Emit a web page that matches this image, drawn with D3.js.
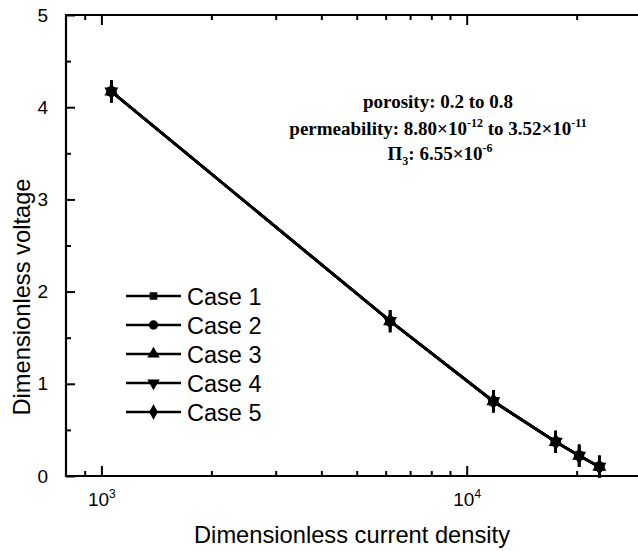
<!DOCTYPE html>
<html>
<head>
<meta charset="utf-8">
<script src="https://cdn.jsdelivr.net/npm/d3@7"></script>
<style>
html,body{margin:0;padding:0;background:#fff;}
svg{display:block;}
</style>
</head>
<body>
<svg id="chart" width="638" height="551"></svg>
<script>
// ---- data ----
const caseNames = ["Case 1", "Case 2", "Case 3", "Case 4", "Case 5"];
const currentDensity = [1065, 6170, 11830, 17530, 20310, 23080];
const case1 = [4.17, 1.68, 0.81, 0.37, 0.22, 0.10];
const case2 = [4.17, 1.68, 0.81, 0.37, 0.22, 0.10];
const case3 = [4.17, 1.68, 0.81, 0.37, 0.22, 0.10];
const case4 = [4.17, 1.68, 0.81, 0.37, 0.22, 0.10];
const case5 = [4.17, 1.68, 0.81, 0.37, 0.22, 0.10];
const voltageError = [0.12, 0.12, 0.12, 0.12, 0.12, 0.12];
const yTicks = [0, 1, 2, 3, 4, 5];
const yMinorTicks = [0.5, 1.5, 2.5, 3.5, 4.5];
const xMajorTicks = [1000, 10000];
const xMinorTicks = [900, 2000, 3000, 4000, 5000, 6000, 7000, 8000, 9000, 20000];

const seriesValues = [case1, case2, case3, case4, case5];
const markerTypes = [d3.symbolSquare, d3.symbolCircle, d3.symbolTriangle, d3.symbolTriangle, d3.symbolDiamond];
const markerRot = [0, 0, 0, 180, 0];
const markerSize = [72, 85, 85, 85, 85];

// ---- layout ----
const pLeft = 66, pRight = 641, pTop = 15, pBottom = 476;
const svg = d3.select("#chart");
const x = d3.scaleLog().domain([800, 30000]).range([pLeft, pRight]);
const y = d3.scaleLinear().domain([0, 5]).range([pBottom, pTop]);

const tickFont = "Liberation Sans, Arial, sans-serif";

// frame
svg.append("line").attr("x1", pLeft).attr("x2", 700).attr("y1", pBottom).attr("y2", pBottom)
  .attr("stroke", "#000").attr("stroke-width", 2.2);
svg.append("line").attr("x1", pLeft).attr("x2", 700).attr("y1", pTop).attr("y2", pTop)
  .attr("stroke", "#000").attr("stroke-width", 2.2);
svg.append("line").attr("x1", pLeft).attr("x2", pLeft).attr("y1", pTop - 1).attr("y2", pBottom + 1)
  .attr("stroke", "#000").attr("stroke-width", 2.2);

// y axis (ticks inward)
const yAxis = d3.axisLeft(y).tickValues(yTicks).tickSizeInner(-9).tickSizeOuter(0).tickPadding(18)
  .tickFormat(d3.format("d"));
const gy = svg.append("g").attr("transform", `translate(${pLeft},0)`).call(yAxis);
gy.select(".domain").remove();
gy.selectAll(".tick line").attr("stroke-width", 2);
gy.selectAll("text").attr("font-family", tickFont).attr("font-size", 19).attr("fill", "#000");
const yMinor = d3.axisLeft(y).tickValues(yMinorTicks).tickSizeInner(-5).tickSizeOuter(0).tickFormat("");
const gym = svg.append("g").attr("transform", `translate(${pLeft},0)`).call(yMinor);
gym.select(".domain").remove();
gym.selectAll(".tick line").attr("stroke-width", 2);

// x axis bottom (ticks inward)
const xAxis = d3.axisBottom(x).tickValues(xMajorTicks).tickSizeInner(-10).tickSizeOuter(0).tickFormat("");
const gx = svg.append("g").attr("transform", `translate(0,${pBottom})`).call(xAxis);
gx.select(".domain").remove();
gx.selectAll(".tick line").attr("stroke-width", 2);
gx.selectAll(".tick").append("text")
  .attr("y", 30).attr("text-anchor", "middle")
  .attr("font-family", tickFont).attr("font-size", 19).attr("fill", "#000")
  .each(function(d) {
    const t = d3.select(this);
    t.append("tspan").text("10");
    t.append("tspan").attr("dy", -8).attr("font-size", 12).text(Math.round(Math.log10(d)));
  });
const xMinor = d3.axisBottom(x).tickValues(xMinorTicks).tickSizeInner(-5).tickSizeOuter(0).tickFormat("");
const gxm = svg.append("g").attr("transform", `translate(0,${pBottom})`).call(xMinor);
gxm.select(".domain").remove();
gxm.selectAll(".tick line").attr("stroke-width", 2);

// top axis ticks (downward)
const xTop = d3.axisTop(x).tickValues(xMajorTicks).tickSizeInner(-10).tickSizeOuter(0).tickFormat("");
const gxt = svg.append("g").attr("transform", `translate(0,${pTop})`).call(xTop);
gxt.select(".domain").remove();
gxt.selectAll(".tick line").attr("stroke-width", 2);
const xTopMinor = d3.axisTop(x).tickValues(xMinorTicks).tickSizeInner(-5).tickSizeOuter(0).tickFormat("");
const gxtm = svg.append("g").attr("transform", `translate(0,${pTop})`).call(xTopMinor);
gxtm.select(".domain").remove();
gxtm.selectAll(".tick line").attr("stroke-width", 2);

// axis titles
svg.append("text").attr("x", 352).attr("y", 543).attr("text-anchor", "middle")
  .attr("font-family", tickFont).attr("font-size", 23.7).attr("fill", "#000")
  .text("Dimensionless current density");
svg.append("text").attr("transform", "translate(30,297) rotate(-90)").attr("text-anchor", "middle")
  .attr("font-family", tickFont).attr("font-size", 23.7).attr("fill", "#000")
  .text("Dimensionless voltage");

// series
const line = d3.line().x(d => x(d[0])).y(d => y(d[1]));
seriesValues.forEach((vals, i) => {
  const pts = currentDensity.map((c, j) => [c, vals[j], voltageError[j]]);
  const g = svg.append("g");
  g.append("path").datum(pts).attr("d", line).attr("fill", "none")
    .attr("stroke", "#000").attr("stroke-width", 2.6);
  g.selectAll("line.err").data(pts).enter().append("line")
    .attr("x1", d => x(d[0])).attr("x2", d => x(d[0]))
    .attr("y1", d => y(d[1] - d[2])).attr("y2", d => y(d[1] + d[2]))
    .attr("stroke", "#000").attr("stroke-width", 2.4);
  g.selectAll("path.m").data(pts).enter().append("path")
    .attr("d", d3.symbol().type(markerTypes[i]).size(markerSize[i]))
    .attr("transform", d => `translate(${x(d[0])},${y(d[1])}) rotate(${markerRot[i]})`)
    .attr("fill", "#000");
});

// legend
const legY0 = 296, legStep = 29;
caseNames.forEach((name, i) => {
  const yy = legY0 + i * legStep;
  svg.append("line").attr("x1", 126).attr("x2", 181).attr("y1", yy).attr("y2", yy)
    .attr("stroke", "#000").attr("stroke-width", 2.6);
  svg.append("path").attr("d", d3.symbol().type(markerTypes[i]).size(markerSize[i] * 0.8))
    .attr("transform", `translate(153.5,${yy}) rotate(${markerRot[i]})`).attr("fill", "#000");
  svg.append("text").attr("x", 187).attr("y", yy + 8.5)
    .attr("font-family", tickFont).attr("font-size", 23.5).attr("fill", "#000").text(name);
});

// annotation
const annFont = "Liberation Serif, 'Times New Roman', serif";
const annX = 438;
const ann = svg.append("g").attr("font-family", annFont).attr("font-weight", "bold")
  .attr("font-size", 19).attr("fill", "#000");
ann.append("text").attr("x", annX).attr("y", 108).attr("text-anchor", "middle").text("porosity: 0.2 to 0.8");
const t2 = ann.append("text").attr("x", annX).attr("y", 135).attr("text-anchor", "middle");
t2.append("tspan").text("permeability: 8.80×10");
t2.append("tspan").attr("dy", -8).attr("font-size", 12).text("-12");
t2.append("tspan").attr("dy", 8).text(" to 3.52×10");
t2.append("tspan").attr("dy", -8).attr("font-size", 12).text("-11");
const t3 = ann.append("text").attr("x", annX + 2).attr("y", 160).attr("text-anchor", "middle");
t3.append("tspan").text("Π");
t3.append("tspan").attr("dy", 5).attr("font-size", 12).text("3");
t3.append("tspan").attr("dy", -5).text(": 6.55×10");
t3.append("tspan").attr("dy", -8).attr("font-size", 12).text("-6");
</script>
</body>
</html>
